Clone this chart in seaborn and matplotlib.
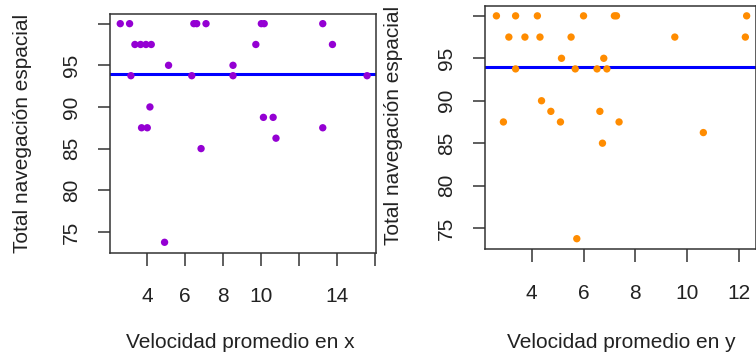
import matplotlib
matplotlib.use("Agg")
import matplotlib.pyplot as plt
import seaborn as sns
import numpy as np
import pandas as pd

# ---- data ----
vel_x = [2.58, 3.07, 6.45, 6.60, 7.09, 10.00, 10.15, 13.23,
         3.35, 3.65, 3.93, 4.21, 9.71, 13.74,
         5.12, 8.51,
         3.14, 6.34, 8.51, 15.56,
         4.14,
         10.11, 10.62,
         3.70, 4.00, 13.23,
         10.77,
         6.83,
         4.91]
total_x = [100, 100, 100, 100, 100, 100, 100, 100,
           97.5, 97.5, 97.5, 97.5, 97.5, 97.5,
           95, 95,
           93.75, 93.75, 93.75, 93.75,
           90,
           88.75, 88.75,
           87.5, 87.5, 87.5,
           86.25,
           85,
           73.75]

vel_y = [2.64, 3.38, 4.22, 6.00, 7.19, 7.27, 12.29,
         3.12, 3.74, 4.32, 5.52, 9.52, 12.24,
         5.15, 6.78,
         3.38, 5.68, 6.52, 6.90,
         4.38,
         4.74, 6.63,
         2.91, 5.11, 7.37,
         10.62,
         6.73,
         5.74]
total_y = [100, 100, 100, 100, 100, 100, 100,
           97.5, 97.5, 97.5, 97.5, 97.5, 97.5,
           95, 95,
           93.75, 93.75, 93.75, 93.75,
           90,
           88.75, 88.75,
           87.5, 87.5, 87.5,
           86.25,
           85,
           73.75]

ytick_vals = [75, 80, 85, 90, 95, 100]
ytick_labels = ["75", "80", "85", "90", "95", ""]
xtick_left = [4, 6, 8, 10, 12, 14, 16]
xtick_left_labels = ["4", "6", "8", "10", "", "14", ""]
xtick_right = [4, 6, 8, 10, 12]
xtick_right_labels = ["4", "6", "8", "10", "12"]

ylabel = "Total navegación espacial"
xlabel_left = "Velocidad promedio en x"
xlabel_right = "Velocidad promedio en y"

media = np.mean(total_x)

# ---- plotting ----
sns.set_style("white")
plt.rcParams["font.family"] = ["Liberation Sans", "DejaVu Sans"]

W, H = 756, 362
fig = plt.figure(figsize=(W / 100, H / 100), dpi=100)

def px_axes(x0, x1, y0, y1):
    return fig.add_axes([x0 / W, (H - y1) / H, (x1 - x0) / W, (y1 - y0) / H])

ax1 = px_axes(110, 376, 14, 252.7)
ax2 = px_axes(485, 756.5, 6, 249.3)

df1 = pd.DataFrame({"v": vel_x, "t": total_x})
df2 = pd.DataFrame({"v": vel_y, "t": total_y})

fs = 15
for ax, df, col, xl, xt, xtl, xlim, ylc, xlc in [
    (ax1, df1, "#9400D3", xlabel_left, xtick_left, xtick_left_labels, (2.04, 16.03), -0.329, (0.49, -0.377)),
    (ax2, df2, "#FF8C00", xlabel_right, xtick_right, xtick_right_labels, (2.2, 12.67), -0.336, (0.502, -0.385)),
]:
    sns.scatterplot(data=df, x="v", y="t", ax=ax, color=col, s=28,
                    edgecolor="none", linewidth=0, zorder=3)
    ax.axhline(media, color="#0000FF", lw=2.2, zorder=2)
    ax.set_xlim(*xlim)
    ax.set_ylim(72.5, 101.16)
    ax.set_xticks(xt)
    ax.set_xticklabels(xtl, fontsize=fs)
    ax.set_yticks(ytick_vals)
    ax.set_yticklabels(ytick_labels, fontsize=fs, rotation=90, va="center")
    ax.tick_params(axis="both", direction="out", length=9, width=1.1,
                   color="#333333", labelcolor="#222222",
                   bottom=True, left=True, top=False, right=False)
    ax.tick_params(axis="x", pad=16)
    ax.tick_params(axis="y", pad=12)
    for s in ax.spines.values():
        s.set_color("#333333")
        s.set_linewidth(1.1)
    ax.set_xlabel(xl, fontsize=fs, color="#222222", va="center")
    ax.set_ylabel(ylabel, fontsize=fs, color="#222222", va="center")
    ax.xaxis.set_label_coords(*xlc)
    ax.yaxis.set_label_coords(ylc, 0.5 if ax is ax1 else 0.511)
    ax.grid(False)

fig.savefig("out.png", dpi=100)
